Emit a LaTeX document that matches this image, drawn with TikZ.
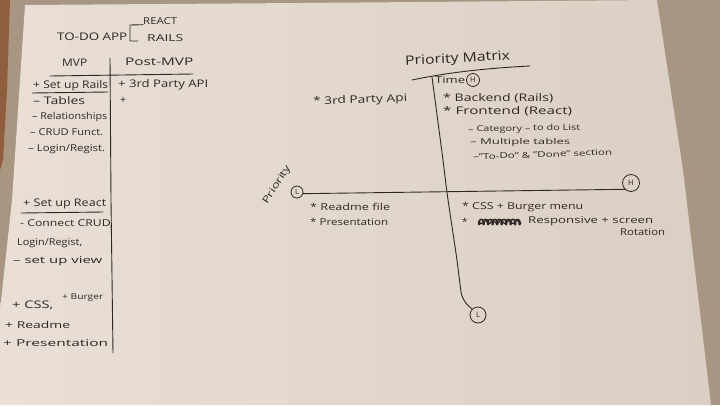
\documentclass[tikz,border=0pt]{standalone}
\usepackage{fontspec}
\setmainfont{Open Sans}
\usepackage{graphicx}
\definecolor{inkc}{HTML}{2E2724}
\definecolor{paperA}{HTML}{E9DFD6}
\definecolor{paperB}{HTML}{DBCFC3}
\definecolor{tablec}{HTML}{A69682}
\definecolor{woodc}{HTML}{8E5E3E}
\newcommand{\fitto}[2]{\resizebox{#1pt}{\height}{#2}}
\tikzset{
  ink/.style={draw=inkc, line width=0.9pt, line cap=round, line join=round},
  hw/.style={inner sep=0pt, anchor=west, text=inkc, font=\fontsize{10.5}{12}\selectfont},
  hwmid/.style={hw, font=\fontsize{9.5}{11}\selectfont},
  hwsmall/.style={hw, font=\fontsize{8}{9}\selectfont},
  hwbig/.style={hw, font=\fontsize{13}{15}\selectfont},
  circ/.style={circle, draw=inkc, line width=0.8pt, inner sep=0pt, text=inkc, font=\fontsize{7.5}{8}\selectfont},
}
\begin{document}
\begin{tikzpicture}[x=1pt,y=-1pt]
\useasboundingbox (0,0) rectangle (720,405);
% table and paper
\fill[tablec] (0,0) rectangle (720,405);
\fill[woodc] (0,0) -- (10,0) -- (7,90) -- (3,160) -- (0,170) -- cycle;
\shade[left color=paperA, right color=paperB] (25,5) -- (300,3) -- (657,0) -- (683,170) -- (711,405) -- (0,405) -- (0,310) -- (12,200) -- cycle;

% ---------- title ----------
\node[hw] (todo) at (57,37) {\fitto{70}{TO-DO APP}};
\node[hwmid] (react) at (143,21) {\fitto{34}{REACT}};
\node[hwmid] (rails) at (147,38) {\fitto{36}{RAILS}};
\coordinate (brtop) at (130,25);
\coordinate (brbot) at (130,41);
\coordinate (brend) at (138,41);
\draw[ink] (react.south west) -- (brtop) -- (brbot) -- (brend);

% ---------- table ----------
\node[hw] (mvp) at (62,63) {\fitto{25}{MVP}};
\node[hw] (post) at (125,62) {\fitto{68}{Post-MVP}};
\coordinate (hl1) at (50,76);
\coordinate (hl2) at (193,74);
\draw[ink] (hl1) -- (hl2);
\coordinate (vl1) at (110,58);
\coordinate (vl2) at (111,200);
\coordinate (vl3) at (113,353);
\draw[ink] (vl1) -- (vl2) -- (vl3);

\node[hw] (srails) at (33,86) {\fitto{75}{+ Set up Rails}};
\coordinate (u1a) at (32,93);
\coordinate (u1b) at (108,92);
\draw[ink] (u1a) -- (u1b);
\node[hw] (tables) at (33,101) {\fitto{52}{– Tables}};
\node[hwmid] (relat) at (32,117) {\fitto{75}{– Relationships}};
\node[hwmid] (crud) at (30,132) {\fitto{73}{– CRUD Funct.}};
\node[hwmid] (login1) at (28,149) {\fitto{77}{– Login/Regist.}};

\node[hw] (sreact) at (23,204) {\fitto{83}{+ Set up React}};
\coordinate (u2a) at (21,213);
\coordinate (u2b) at (103,212);
\draw[ink] (u2a) -- (u2b);
\node[hwmid] (connect) at (20,224) {\fitto{93}{- Connect CRUD,}};
\node[hwmid] (login2) at (17,243) {\fitto{65}{Login/Regist,}};
\node[hwmid] (view) at (13,261) {\fitto{89}{– set up view}};
\node[hw] (css) at (12,305) {\fitto{41}{+ CSS,}};
\node[hwsmall] (burger) at (62,298) {\fitto{41}{+ Burger}};
\node[hwmid] (readme) at (5,325) {\fitto{65}{+ Readme}};
\node[hwmid] (pres) at (3,343) {\fitto{105}{+ Presentation}};

\node[hw] (api) at (118,85) {\fitto{90}{+ 3rd Party API}};
\node[hw] (plus) at (120,100) {+};

% ---------- priority matrix ----------
\node[hwbig, rotate=3] (pm) at (405,62) {\fitto{105}{Priority Matrix}};
\coordinate (ul1) at (412,80);
\coordinate (ul2) at (530,66);
\draw[ink] (ul1) .. controls (450,72) and (490,68) .. (ul2);

\node[hwmid] (time) at (435,80) {\fitto{30}{Time}};
\node[circ, minimum size=13pt] (Ht) at (473,80) {H};
\node[hw] (backend) at (443,98) {\fitto{110}{* Backend (Rails)}};
\node[hw] (frontend) at (443,111) {\fitto{129}{* Frontend (React)}};
\node[hwsmall, rotate=1] (category) at (468,130) {\fitto{112}{– Category – to do List}};
\node[hwsmall] (multiple) at (470,142) {\fitto{100}{– Multiple tables}};
\node[hwsmall, rotate=2] (section) at (473,157) {\fitto{139}{–"To-Do" \& "Done" section}};

\node[hw, rotate=2] (api3) at (313,102) {\fitto{94}{* 3rd Party Api}};

% axes
\coordinate (vtop) at (432,77);
\node[circ, minimum size=12pt] (Lleft) at (297,192) {L};
\node[circ, minimum size=17pt] (Hright) at (631,183) {H};
\node[circ, minimum size=16pt] (Lbot) at (478,315) {L};
\draw[ink] (Lleft.-15) -- (Hright.south west);
\draw[ink, rounded corners=8pt] (vtop) -- (443,160) -- (447,193) -- (457,260) -- (462,300) -- (Lbot.north west);
\node[hwmid, anchor=center, rotate=58] (prio) at (277,185) {\fitto{44}{Priority}};

\node[hwmid] (readme2) at (310,207) {\fitto{80}{* Readme file}};
\node[hwmid] (pres2) at (310,222) {\fitto{78}{* Presentation}};

\node[hwmid] (cssb) at (462,207) {\fitto{121}{* CSS + Burger menu}};
\node[hwmid] (star) at (462,222) {*};
\draw[ink, line width=1.6pt] plot[domain=0:43, samples=90, smooth] ({478+\x+1.5*cos(\x*80)}, {222+2.6*sin(\x*80)});
\draw[ink, line width=1.2pt] plot[domain=0:42, samples=70, smooth] ({479+\x}, {222+1.5*sin(\x*45)});
\node[hwmid] (resp) at (528,221) {\fitto{125}{Responsive + screen}};
\node[hwmid] (rot) at (620,232) {\fitto{45}{Rotation}};
\end{tikzpicture}
\end{document}
